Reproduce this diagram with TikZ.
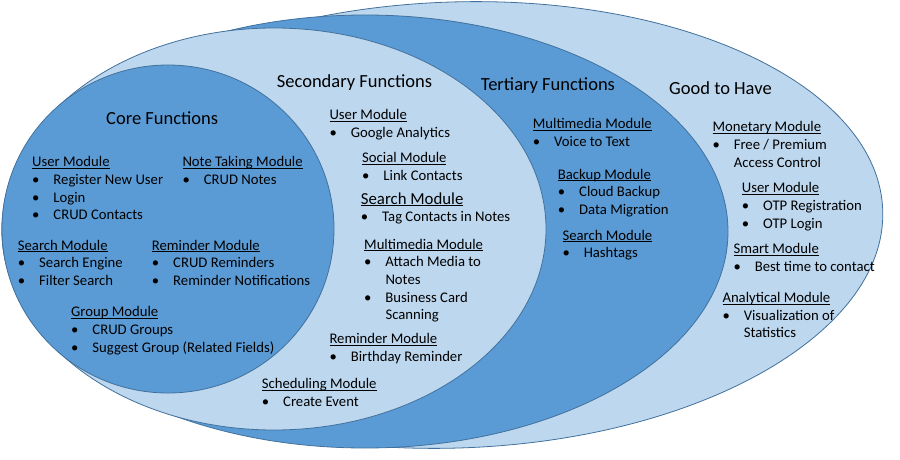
\documentclass[tikz,border=0pt]{standalone}
\usepackage{fontspec}
\setmainfont{Carlito}

\definecolor{ringdark}{HTML}{5B9BD5}
\definecolor{ringlight}{HTML}{BDD7EE}
\definecolor{ringline}{HTML}{41719C}

\newcommand\modname[1]{\setbox0\hbox{#1}\rlap{\rule[-2.3pt]{\wd0}{0.9pt}}\box0}
\newcommand\modlist[2]{\begin{tabular}[t]{@{}l@{}}\modname{#1}\\#2\end{tabular}}
\newcommand\bul{\makebox[21.3pt][l]{\textbullet}}
\newcommand\cont{\hspace*{21.3pt}}

\tikzset{
  ring/.style={draw=ringline, line width=0.8pt},
  title/.style={anchor=base west, inner sep=0pt, font=\fontsize{18.5}{22}\selectfont},
  module/.style={anchor=base west, inner sep=0pt, font=\fontsize{14.7}{17.7}\selectfont},
}

\begin{document}
\begin{tikzpicture}[x=1pt,y=-1pt]

   \useasboundingbox (0,0) rectangle (900,460);
   \fill[white] (0,0) rectangle (900,460);

   \draw[ring, fill=ringlight, rotate around={2:(455,225)}] (455,225) ellipse [x radius=428, y radius=223];
   \draw[ring, fill=ringdark] (365,231.5) ellipse [x radius=363, y radius=216.5];
   \draw[ring, fill=ringlight] (274,229) ellipse [x radius=272, y radius=201];
   \draw[ring, fill=ringdark] (168,229) ellipse [x radius=166, y radius=164];

   % core
   \node[title] (coreT) at (106,124.5) {Core Functions};
   \node[module] (coreUser) at (32,166.7) {\modlist{User Module}{\bul Register New User\\\bul Login\\\bul CRUD Contacts}};
   \node[module] (coreNote) at (182.3,166.7) {\modlist{Note Taking Module}{\bul CRUD Notes}};
   \node[module] (coreSearch) at (17.7,250) {\modlist{Search Module}{\bul Search Engine\\\bul Filter Search}};
   \node[module] (coreRemind) at (151.7,250) {\modlist{Reminder Module}{\bul CRUD Reminders\\\bul Reminder Notifications}};
   \node[module] (coreGroup) at (71,316.7) {\modlist{Group Module}{\bul CRUD Groups\\\bul Suggest Group (Related Fields)}};

   % secondary
   \node[title] (secT) at (276.7,87.3) {Secondary Functions};
   \node[module] (secUser) at (329.3,119.3) {\modlist{User Module}{\bul Google Analytics}};
   \node[module] (secSocial) at (362,162.7) {\modlist{Social Module}{\bul Link Contacts}};
   \node[module] (secSearch) at (360.7,204) {\modlist{\fontsize{16.8}{17.7}\selectfont Search Module}{\bul Tag Contacts in Notes}};
   \node[module] (secMedia) at (364,249) {\modlist{Multimedia Module}{\bul Attach Media to\\\cont Notes\\\bul Business Card\\\cont Scanning}};
   \node[module] (secRemind) at (329.3,343.3) {\modlist{Reminder Module}{\bul Birthday Reminder}};
   \node[module] (secSched) at (261.7,388.3) {\modlist{Scheduling Module}{\bul Create Event}};

   % tertiary
   \node[title] (terT) at (480.7,90.7) {Tertiary Functions};
   \node[module] (terMedia) at (532.7,128.3) {\modlist{Multimedia Module}{\bul Voice to Text}};
   \node[module] (terBackup) at (557.7,179) {\modlist{Backup Module}{\bul Cloud Backup\\\bul Data Migration}};
   \node[module] (terSearch) at (562.3,240) {\modlist{Search Module}{\bul Hashtags}};

   % good to have
   \node[title] (gthT) at (669,94.3) {Good to Have};
   \node[module] (gthMoney) at (712.3,131.7) {\modlist{Monetary Module}{\bul Free / Premium\\\cont Access Control}};
   \node[module] (gthUser) at (741.7,192.7) {\modlist{User Module}{\bul OTP Registration\\\bul OTP Login}};
   \node[module] (gthSmart) at (733.3,253.3) {\modlist{Smart Module}{\bul Best time to contact}};
   \node[module] (gthStats) at (722.3,302.3) {\modlist{Analytical Module}{\bul Visualization of\\\cont Statistics}};

\end{tikzpicture}
\end{document}
